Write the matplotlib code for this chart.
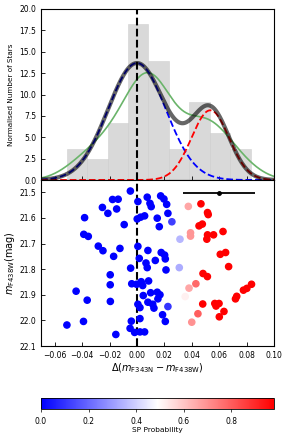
import matplotlib
matplotlib.use('Agg')
import matplotlib.pyplot as plt
import numpy as np

# histogram (normalised counts)
bin_edges = [-0.0512, -0.0363, -0.0214, -0.0065, 0.0084, 0.0233, 0.0382, 0.0531, 0.0680, 0.0829]
bin_heights = [3.6, 2.4, 6.7, 18.2, 13.9, 3.6, 9.1, 5.45, 3.6]

# two gaussian components (weight, mean, sigma)
comp_blue = (0.72, 0.0, 0.021)
comp_red = (0.28, 0.0535, 0.0137)

# stars: colour difference, magnitude, SP probability
dcol = [-0.0048, -0.0178, -0.0137, -0.0252, -0.0148, -0.0212, -0.0382, -0.0093, -0.0388, -0.0355,
        -0.0282, -0.0248, -0.0124, -0.0170, -0.0046, -0.0195, -0.0195, -0.0038, -0.0444, -0.0363,
        -0.0194, -0.0390, -0.0511, -0.0041, -0.0050, -0.0154, -0.0017,
        0.0007, 0.0075, 0.0095, 0.0104, 0.0173, 0.0197, 0.0217, 0.0226, 0.0255, 0.0163,
        0.0148, 0.0056, 0.0027, 0.0002, 0.0007, 0.0080, 0.0177, 0.0202, 0.0207, 0.0134,
        0.0066, 0.0017, 0.0075, 0.0212, -0.0002, 0.0031, 0.0042, 0.0085, 0.0046, 0.0100,
        0.0148, 0.0168, 0.0153, 0.0080, 0.0115, 0.0124, 0.0226, 0.0007, 0.0022, 0.0187,
        0.0207, 0.0022, 0.0022, 0.0056,
        0.0314, 0.0309,
        0.0375, 0.0391, 0.0391, 0.0380, 0.0352, 0.0400, 0.0430, 0.0445,
        0.0467, 0.0515, 0.0520, 0.0453, 0.0477, 0.0515, 0.0510, 0.0559, 0.0628, 0.0608,
        0.0647, 0.0669, 0.0482, 0.0514, 0.0836, 0.0802, 0.0777, 0.0728, 0.0719, 0.0480,
        0.0568, 0.0577, 0.0599, 0.0635, 0.0601]
mag = [21.495, 21.528, 21.527, 21.559, 21.565, 21.582, 21.599, 21.626, 21.664, 21.672,
       21.710, 21.728, 21.719, 21.750, 21.796, 21.822, 21.861, 21.857, 21.886, 21.921,
       21.926, 22.004, 22.018, 22.003, 22.031, 22.055, 22.047,
       21.536, 21.519, 21.543, 21.556, 21.514, 21.526, 21.547, 21.582, 21.615, 21.634,
       21.601, 21.592, 21.597, 21.604, 21.711, 21.727, 21.735, 21.745, 21.760, 21.766,
       21.776, 21.758, 21.794, 21.803, 21.859, 21.849, 21.864, 21.846, 21.903, 21.892,
       21.890, 21.900, 21.916, 21.929, 21.937, 21.952, 21.946, 21.937, 21.950, 21.978,
       22.004, 21.993, 22.045, 22.045,
       21.683, 21.794,
       21.555, 21.658, 21.671, 21.874, 21.907, 22.007, 21.857, 21.974,
       21.545, 21.579, 21.587, 21.631, 21.624, 21.666, 21.683, 21.666, 21.653, 21.742,
       21.735, 21.790, 21.817, 21.829, 21.859, 21.875, 21.882, 21.906, 21.916, 21.936,
       21.934, 21.944, 21.934, 21.965, 21.986]
prob = [0.0] * 27 + [0.0] * 8 + [0.12] + [0.0] * 27 + [0.1] + [0.0] * 7 + \
       [0.35, 0.33] + [0.66, 0.69, 0.69, 0.66, 0.52, 0.70, 0.78, 0.80] + [0.98] * 25

err_x, err_y, err_dx = 0.06, 21.502, 0.0265


def gauss(x, w, mu, sig):
    return w / (sig * np.sqrt(2 * np.pi)) * np.exp(-0.5 * ((x - mu) / sig) ** 2)


fig = plt.figure(figsize=(2.9, 4.41), dpi=100)
ax1 = fig.add_axes([0.1414, 0.5918, 0.8034, 0.3878])
ax2 = fig.add_axes([0.1414, 0.2154, 0.8034, 0.3764])
cax = fig.add_axes([0.1414, 0.0726, 0.8034, 0.0256])

# top panel
centers = 0.5 * (np.array(bin_edges[:-1]) + np.array(bin_edges[1:]))
ax1.hist(centers, bins=bin_edges, weights=bin_heights, color='#d3d3d3', alpha=0.85,
         edgecolor='#cccccc', linewidth=0.4)

xs = np.linspace(-0.07, 0.10, 400)
gb = gauss(xs, *comp_blue)
gr = gauss(xs, *comp_red)

# kernel density of the colour differences
d = np.array(dcol)
bw = 0.0135
kde = np.exp(-0.5 * ((xs[:, None] - d[None, :]) / bw) ** 2).sum(axis=1) / (len(d) * bw * np.sqrt(2 * np.pi))
ax1.plot(xs, kde, color='#6ab46a', lw=1.2)

ax1.plot(xs, gb, color='blue', ls='--', lw=1.3)
ax1.plot(xs, gr, color='red', ls='--', lw=1.3)
ax1.plot(xs, gb + gr, color='black', lw=3, alpha=0.6)
ax1.axvline(0, color='black', ls='--', lw=1.5)

ax1.set_xlim(-0.07, 0.10)
ax1.set_ylim(0, 20)
ax1.set_yticks(np.arange(0, 20.1, 2.5))
ax1.tick_params(direction='in', labelsize=5.5, labelbottom=False, length=3, width=0.6)
ax1.set_ylabel('Normalised Number of Stars', fontsize=5.2)

# bottom panel
sc = ax2.scatter(dcol, mag, c=prob, cmap='bwr', vmin=0, vmax=0.98, s=20, zorder=3)
ax2.axvline(0, color='black', ls='--', lw=1.5, zorder=2)
ax2.errorbar(err_x, err_y, xerr=err_dx, fmt='o', color='black', ms=2.5, lw=1.3, zorder=4)
ax2.set_xlim(-0.07, 0.10)
ax2.set_ylim(22.1, 21.452)
ax2.set_yticks([21.5, 21.6, 21.7, 21.8, 21.9, 22.0, 22.1])
ax2.tick_params(direction='in', labelsize=5.5, length=3, width=0.6)
ax2.set_xlabel(r'$\Delta(m_{\rm F343N} - m_{\rm F438W})$', fontsize=7, labelpad=1)
ax2.set_ylabel(r'$m_{\rm F438W}$(mag)', fontsize=7, labelpad=2)

cb = fig.colorbar(sc, cax=cax, orientation='horizontal')
cb.set_ticks([0.0, 0.2, 0.4, 0.6, 0.8])
cb.ax.tick_params(labelsize=5.5, length=2, width=0.5)
cb.set_label('SP Probability', fontsize=5.3, labelpad=1)
cb.outline.set_linewidth(0.6)

for a in (ax1, ax2):
    for s in a.spines.values():
        s.set_linewidth(0.8)

fig.savefig('out.png', dpi=100)
